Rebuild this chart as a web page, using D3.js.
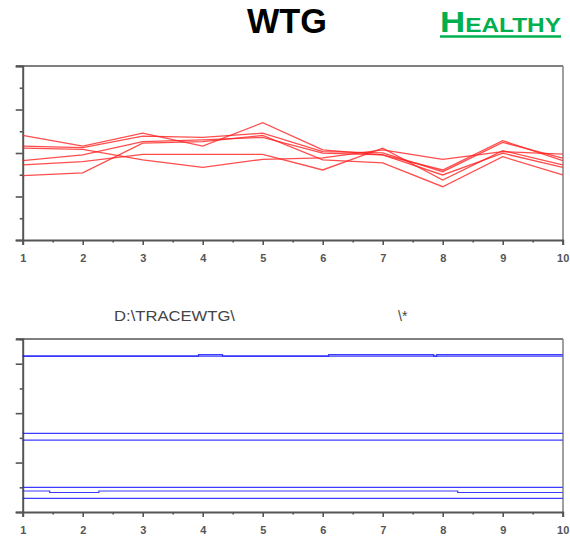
<!DOCTYPE html>
<html>
<head>
<meta charset="utf-8">
<script src="https://cdn.jsdelivr.net/npm/d3@7"></script>
<style>
  body { margin: 0; background: #fff; }
  svg { display: block; font-family: "Liberation Sans", Arial, sans-serif; }
</style>
</head>
<body>
<svg id="chart" width="570" height="538"></svg>
<script>
// x positions shared by both panels
const steps = [1, 2, 3, 4, 5, 6, 7, 8, 9, 10];

// top panel: red traces
const redA = [4.81, 4.32, 4.91, 4.32, 5.39, 4.14, 3.91, 3.22, 4.57, 3.65];
const redB = [4.32, 4.25, 4.78, 4.72, 4.91, 4.06, 4.01, 3.14, 4.49, 3.76];
const redC = [4.22, 4.17, 3.68, 3.34, 3.71, 3.78, 4.14, 3.71, 4.06, 3.95];
const redD = [3.65, 3.91, 4.52, 4.60, 4.72, 3.99, 3.91, 2.99, 3.99, 3.34];
const redE = [3.45, 3.60, 3.94, 3.94, 3.94, 3.22, 4.22, 2.76, 4.11, 3.45];
const redF = [2.96, 3.09, 4.45, 4.52, 4.81, 3.68, 3.55, 2.45, 3.83, 2.99];
const redSeries = [redA, redB, redC, redD, redE, redF];

// bottom panel: blue traces, step points (x, value)
const blueA_x = [1, 10],                             blueA_y = [6.31, 6.31];
const blueB_x = [1, 3.93, 4.33, 6.1, 7.85, 7.9, 10], blueB_y = [6.31, 6.37, 6.31, 6.37, 6.31, 6.37, 6.37];
const blueC_x = [1, 10],                             blueC_y = [3.18, 3.18];
const blueD_x = [1, 10],                             blueD_y = [2.91, 2.91];
const blueE_x = [1, 10],                             blueE_y = [1.00, 1.00];
const blueF_x = [1, 1.45, 2.27, 8.25, 10],           blueF_y = [0.85, 0.79, 0.85, 0.79, 0.79];
const blueG_x = [1, 10],                             blueG_y = [0.55, 0.55];
const blueSeries = [
  [blueA_x, blueA_y], [blueB_x, blueB_y], [blueC_x, blueC_y], [blueD_x, blueD_y],
  [blueE_x, blueE_y], [blueF_x, blueF_y], [blueG_x, blueG_y]
];

// tick values
const majorX = steps;
const minorX = d3.range(1.5, 10, 1);
const topMajorY = [0, 2, 4, 6, 8], topMinorY = [1, 3, 5, 7];
const botMajorY = [0, 2, 4, 6], botMinorY = [1, 3, 5, 7];

// texts
const titleText = "WTG";
const statusFirst = "H", statusRest = "EALTHY";
const pathText = "D:\\TRACEWTG\\";
const maskText = "\\*";

const svg = d3.select("#chart");
const axisColor = "#555";

const x = d3.scaleLinear().domain([1, 10]).range([22.7, 562.7]);

function panel(yScale, majorY, minorY, top, bottom) {
  const g = svg.append("g");

  // frame top + right
  g.append("line").attr("x1", 16).attr("x2", 563).attr("y1", top).attr("y2", top)
    .attr("stroke", axisColor).attr("stroke-width", 1.6);
  g.append("line").attr("x1", 563).attr("x2", 563).attr("y1", top).attr("y2", bottom)
    .attr("stroke", "#888").attr("stroke-width", 1.6);

  // left axis, major + minor ticks
  g.append("g").attr("transform", `translate(${x(1)},0)`)
    .call(d3.axisLeft(yScale).tickValues(majorY).tickSize(7).tickFormat(""));
  g.append("g").attr("transform", `translate(${x(1)},0)`)
    .call(d3.axisLeft(yScale).tickValues(minorY).tickSize(3).tickFormat(""))
    .select(".domain").remove();

  // bottom axis
  const bot = g.append("g").attr("transform", `translate(0,${bottom})`)
    .call(d3.axisBottom(x).tickValues(majorX).tickSize(5).tickPadding(9).tickFormat(d3.format("d")));
  g.append("g").attr("transform", `translate(0,${bottom})`)
    .call(d3.axisBottom(x).tickValues(minorX).tickSize(2.5).tickFormat(""))
    .select(".domain").remove();

  g.selectAll(".domain").attr("stroke", axisColor).attr("stroke-width", 2);
  g.selectAll(".tick line").attr("stroke", axisColor).attr("stroke-width", 1.6);
  bot.selectAll("text")
    .style("font-size", "11px")
    .style("font-weight", "bold")
    .attr("fill", "#555");
  return g;
}

// top panel
const yTop = d3.scaleLinear().domain([0, 8]).range([240, 66]);
const gTop = panel(yTop, topMajorY, topMinorY, 66, 240);
const redLine = d3.line().x((d, i) => x(steps[i])).y(d => yTop(d));
gTop.selectAll(".red")
  .data(redSeries)
  .enter().append("path")
  .attr("class", "red")
  .attr("d", redLine)
  .attr("fill", "none")
  .attr("stroke", "#ff2020")
  .attr("stroke-opacity", 0.8)
  .attr("stroke-width", 1.3);

// bottom panel
const yBot = d3.scaleLinear().domain([0, 7]).range([512, 339]);
const gBot = panel(yBot, botMajorY, botMinorY, 339, 512);
const blueLine = d3.line()
  .x(d => x(d[0])).y(d => yBot(d[1]))
  .curve(d3.curveStepAfter);
gBot.selectAll(".blue")
  .data(blueSeries)
  .enter().append("path")
  .attr("class", "blue")
  .attr("d", s => blueLine(s[0].map((v, i) => [v, s[1][i]])))
  .attr("fill", "none")
  .attr("stroke", "#1a1aff")
  .attr("stroke-opacity", 0.85)
  .attr("stroke-width", 1.2);

// path label above bottom panel
svg.append("text")
  .attr("x", 114).attr("y", 321)
  .attr("textLength", 121).attr("lengthAdjust", "spacingAndGlyphs")
  .style("font-size", "14px")
  .attr("fill", "#444")
  .text(pathText);
svg.append("text")
  .attr("x", 398).attr("y", 321)
  .style("font-size", "14px")
  .attr("fill", "#444")
  .text(maskText);

// title
svg.append("text")
  .attr("x", 287).attr("y", 33)
  .attr("text-anchor", "middle")
  .attr("textLength", 80).attr("lengthAdjust", "spacingAndGlyphs")
  .style("font-size", "35px")
  .style("font-weight", "bold")
  .attr("fill", "#000")
  .text(titleText);

// status, small caps + underline
const status = svg.append("text")
  .attr("x", 440).attr("y", 32)
  .attr("textLength", 121).attr("lengthAdjust", "spacingAndGlyphs")
  .style("font-weight", "bold")
  .attr("fill", "#00b050");
status.append("tspan").style("font-size", "30px").text(statusFirst);
status.append("tspan").style("font-size", "21px").text(statusRest);
svg.append("line")
  .attr("x1", 440).attr("x2", 561).attr("y1", 36.5).attr("y2", 36.5)
  .attr("stroke", "#00b050").attr("stroke-width", 2.5);
</script>
</body>
</html>
